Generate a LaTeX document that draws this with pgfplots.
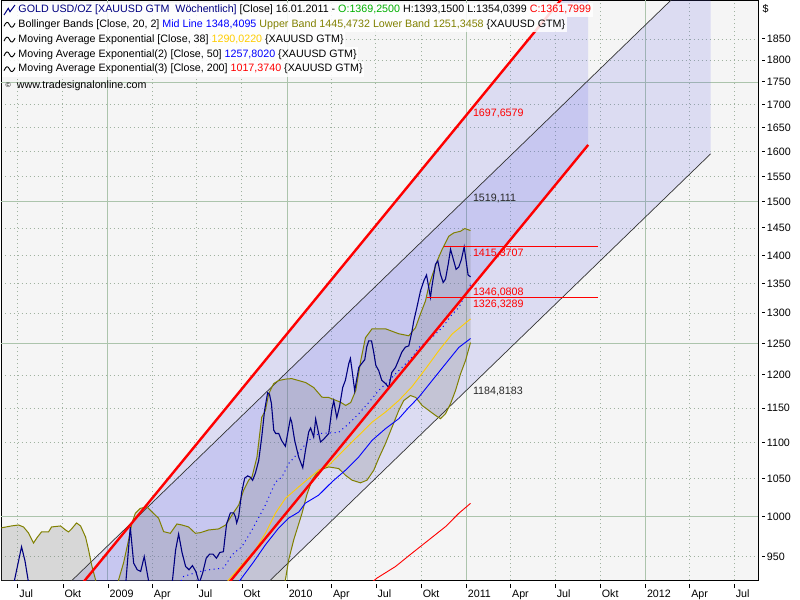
\documentclass[border=0pt]{standalone}
\usepackage{fontspec}
\setmainfont{Liberation Sans}
\usepackage{pgfplots}
\pgfplotsset{compat=1.18}
\definecolor{bgc}{RGB}{245,245,245}
\definecolor{gridsolid}{RGB}{172,196,172}
\definecolor{griddot}{RGB}{160,178,160}
\definecolor{lav}{RGB}{90,90,230}
\definecolor{navy}{RGB}{0,0,128}
\definecolor{olivec}{RGB}{128,128,0}
\definecolor{emay}{RGB}{255,205,0}
\definecolor{ogreen}{RGB}{0,176,0}
\definecolor{darktxt}{RGB}{40,40,40}
\newcommand\lbl{\fontsize{10.7bp}{12bp}\selectfont}
\newcommand\xt[1]{\rule[9bp]{0.8bp}{4bp}\hspace{1.2bp}#1}
\newcommand\yt[1]{\rule[3.4bp]{3.3bp}{0.9bp}\hspace{1.7bp}#1}
\begin{document}
\begin{tikzpicture}[x=1bp,y=1bp]
\useasboundingbox (0,0) rectangle (800,600);
\begin{axis}[
  at={(1.5bp,19.7bp)}, anchor=south west,
  scale only axis, width=756.5bp, height=579.8bp,
  ymode=log, xmin=2008.4061, xmax=2012.6296, ymin=921.5, ymax=1944,
  axis background/.style={fill=bgc},
  axis line style={black, line width=1bp},
  major tick length=0pt,
  ytick={950,1000,1050,1100,1150,1200,1250,1300,1350,1400,1450,1500,1550,1600,1650,1700,1750,1800,1850},
  yticklabels={\yt{950},\yt{1000},\yt{1050},\yt{1100},\yt{1150},\yt{1200},\yt{1250},\yt{1300},\yt{1350},\yt{1400},\yt{1450},\yt{1500},\yt{1550},\yt{1600},\yt{1650},\yt{1700},\yt{1750},\yt{1800},\yt{1850}},
  yticklabel pos=right,
  yticklabel style={anchor=west, inner sep=0pt, xshift=3.7bp, font=\lbl},
  xtick={2008.496,2008.748,2009,2009.247,2009.496,2009.748,2010,2010.247,2010.496,2010.748,2011,2011.247,2011.496,2011.748,2012,2012.247,2012.496},
  xticklabels={\xt{Jul},\xt{Okt},\xt{2009},\xt{Apr},\xt{Jul},\xt{Okt},\xt{2010},\xt{Apr},\xt{Jul},\xt{Okt},\xt{2011},\xt{Apr},\xt{Jul},\xt{Okt},\xt{2012},\xt{Apr},\xt{Jul}},
  xticklabel style={anchor=north west, inner sep=0pt, xshift=-0.4bp, yshift=-3.7bp, font=\lbl},
  grid=major,
  major grid style={griddot, line width=0.8bp, dash pattern=on 1bp off 3bp},
  extra x ticks={2009,2010,2011,2012}, extra x tick labels={},
  extra y ticks={1000,1250,1500,1750}, extra y tick labels={},
  extra tick style={major grid style={gridsolid, line width=1bp, solid}},
  clip=true,
]
% regression channels (fills)
\addplot[draw=none, fill=lav, fill opacity=0.16] coordinates {(2008.6129,883.7) (2012.3654,2043.2) (2012.3654,1595.5) (2008.6129,690.3)};
\addplot[draw=none, fill=lav, fill opacity=0.16] coordinates {(2008.7246,884.1) (2011.6816,2030.4) (2011.6816,1614.0) (2008.7246,702.1)};
% Bollinger band fill
\addplot[draw=none, fill=black!50, fill opacity=0.25] coordinates {
(2008.4006,985.6) (2008.4620,988.2) (2008.5011,989.4) (2008.5291,986.9) (2008.5570,979.3) (2008.5849,966.8) (2008.6073,974.3) (2008.6296,980.6) (2008.6687,980.6) (2008.6855,986.9) (2008.7358,988.2) (2008.7637,983.1) (2008.7805,980.6) (2008.7972,984.4) (2008.8252,992.0) (2008.8475,988.2) (2008.8754,974.3) (2008.8922,958.2) (2008.9090,940.0) (2008.9313,922.0) (2008.9481,898.7) (2008.9760,880) (2009.0039,870) (2009.0319,885) (2009.0486,898.7) (2009.0598,922.0) (2009.0877,942.4) (2009.1157,970.6) (2009.1341,991.6) (2009.1531,1004.4) (2009.1810,1010.8) (2009.2179,1012.9) (2009.2458,1006.4) (2009.2832,998.0) (2009.3112,981.0) (2009.3486,978.9) (2009.3855,990.7) (2009.4134,989.4) (2009.4509,986.9) (2009.4883,978.9) (2009.5162,979.7) (2009.5626,983.1) (2009.6185,984.4) (2009.6576,989.4) (2009.6928,1002.2) (2009.7302,1015.1) (2009.7581,1034.8) (2009.7860,1048.2) (2009.8045,1052.6) (2009.8324,1080.0) (2009.8587,1136.4) (2009.8793,1146.6) (2009.8978,1171.4) (2009.9257,1187.0) (2009.9536,1191.6) (2009.9928,1193.9) (2010.0263,1194.6) (2010.0654,1191.6) (2010.1045,1188.5) (2010.1492,1180.9) (2010.1955,1166.3) (2010.2330,1165.9) (2010.2983,1158.9) (2010.3279,1154.0) (2010.3559,1158.4) (2010.3838,1176.4) (2010.4117,1222.6) (2010.4380,1259.1) (2010.4749,1273.7) (2010.5497,1273.7) (2010.6240,1265.6) (2010.6799,1262.3) (2010.7173,1275.4) (2010.7453,1298.4) (2010.7732,1320.3) (2010.7916,1345.9) (2010.8101,1363.3) (2010.8380,1389.7) (2010.8659,1410.8) (2010.9034,1435.0) (2010.9313,1441.1) (2010.9687,1444.2) (2010.9928,1449.2) (2011.0246,1445.47)
(2011.0246,1251.35) (2010.9966,1222.6) (2010.9687,1201.8) (2010.9408,1176.4) (2010.9128,1156.5) (2010.8849,1141.8) (2010.8570,1134.5) (2010.8291,1139.3) (2010.7916,1146.6) (2010.7542,1154.0) (2010.7190,1165.9) (2010.6894,1168.9) (2010.6520,1161.4) (2010.6240,1146.6) (2010.5866,1122.3) (2010.5497,1098.7) (2010.5123,1078.2) (2010.4844,1061.7) (2010.4469,1048.2) (2010.4101,1044.6) (2010.3631,1048.2) (2010.3263,1054.9) (2010.2888,1064.0) (2010.2330,1066.2) (2010.1771,1061.7) (2010.1397,1048.2) (2010.1101,1028.2) (2010.0838,1004.4) (2010.0374,970.6) (2010.0095,946.0) (2009.9911,922.0) (2009.9704,905) (2009.9257,885) (2009.8419,875) (2009.7302,885) (2009.6185,880) (2009.5067,880) (2009.3950,860) (2009.2832,830) (2009.1715,770) (2009.0598,720) (2008.9481,690) (2008.8363,700) (2008.7246,760) (2008.6129,840) (2008.5011,880) (2008.4006,870)};
% channel thin lines
\addplot[black!80, line width=0.7bp] coordinates {(2008.6129,883.7) (2012.3654,2043.2)};
\addplot[black!80, line width=0.7bp] coordinates {(2008.6129,690.3) (2012.3654,1595.5)};
% Bollinger upper / lower
\addplot[olivec, line width=1bp] coordinates {
(2008.4006,985.6) (2008.4620,988.2) (2008.5011,989.4) (2008.5291,986.9) (2008.5570,979.3) (2008.5849,966.8) (2008.6073,974.3) (2008.6296,980.6) (2008.6687,980.6) (2008.6855,986.9) (2008.7358,988.2) (2008.7637,983.1) (2008.7805,980.6) (2008.7972,984.4) (2008.8252,992.0) (2008.8475,988.2) (2008.8754,974.3) (2008.8922,958.2) (2008.9090,940.0) (2008.9313,922.0) (2008.9481,898.7) (2008.9760,880) (2009.0039,870) (2009.0319,885) (2009.0486,898.7) (2009.0598,922.0) (2009.0877,942.4) (2009.1157,970.6) (2009.1341,991.6) (2009.1531,1004.4) (2009.1810,1010.8) (2009.2179,1012.9) (2009.2458,1006.4) (2009.2832,998.0) (2009.3112,981.0) (2009.3486,978.9) (2009.3855,990.7) (2009.4134,989.4) (2009.4509,986.9) (2009.4883,978.9) (2009.5162,979.7) (2009.5626,983.1) (2009.6185,984.4) (2009.6576,989.4) (2009.6928,1002.2) (2009.7302,1015.1) (2009.7581,1034.8) (2009.7860,1048.2) (2009.8045,1052.6) (2009.8324,1080.0) (2009.8587,1136.4) (2009.8793,1146.6) (2009.8978,1171.4) (2009.9257,1187.0) (2009.9536,1191.6) (2009.9928,1193.9) (2010.0263,1194.6) (2010.0654,1191.6) (2010.1045,1188.5) (2010.1492,1180.9) (2010.1955,1166.3) (2010.2330,1165.9) (2010.2983,1158.9) (2010.3279,1154.0) (2010.3559,1158.4) (2010.3838,1176.4) (2010.4117,1222.6) (2010.4380,1259.1) (2010.4749,1273.7) (2010.5497,1273.7) (2010.6240,1265.6) (2010.6799,1262.3) (2010.7173,1275.4) (2010.7453,1298.4) (2010.7732,1320.3) (2010.7916,1345.9) (2010.8101,1363.3) (2010.8380,1389.7) (2010.8659,1410.8) (2010.9034,1435.0) (2010.9313,1441.1) (2010.9687,1444.2) (2010.9928,1449.2) (2011.0246,1445.47)};
\addplot[olivec, line width=1bp] coordinates {
(2008.4006,870) (2008.5011,880) (2008.6129,840) (2008.7246,760) (2008.8363,700) (2008.9481,690) (2009.0598,720) (2009.1715,770) (2009.2832,830) (2009.3950,860) (2009.5067,880) (2009.6185,880) (2009.7302,885) (2009.8419,875) (2009.9257,885) (2009.9704,905) (2009.9911,922.0) (2010.0095,946.0) (2010.0374,970.6) (2010.0838,1004.4) (2010.1101,1028.2) (2010.1397,1048.2) (2010.1771,1061.7) (2010.2330,1066.2) (2010.2888,1064.0) (2010.3263,1054.9) (2010.3631,1048.2) (2010.4101,1044.6) (2010.4469,1048.2) (2010.4844,1061.7) (2010.5123,1078.2) (2010.5497,1098.7) (2010.5866,1122.3) (2010.6240,1146.6) (2010.6520,1161.4) (2010.6894,1168.9) (2010.7190,1165.9) (2010.7542,1154.0) (2010.7916,1146.6) (2010.8291,1139.3) (2010.8570,1134.5) (2010.8849,1141.8) (2010.9128,1156.5) (2010.9408,1176.4) (2010.9687,1201.8) (2010.9966,1222.6) (2011.0246,1251.35)};
% EMA 200
\addplot[red, line width=0.9bp] coordinates {(2010.4564,916.2) (2010.5028,924.1) (2010.6056,937.9) (2010.6983,954.2) (2010.7916,970.6) (2010.8849,987.3) (2010.9592,1004.4) (2011.0246,1017.37)};
% EMA 50
\addplot[blue, line width=0.9bp] coordinates {(2009.6464,898.7) (2009.7397,922.0) (2009.8140,943.6) (2009.8793,964.4) (2009.9536,985.6) (2010.0095,998.3) (2010.0654,1006.0) (2010.1028,1017.7) (2010.1771,1028.2) (2010.2514,1045.9) (2010.3263,1061.7) (2010.4006,1080.0) (2010.4749,1103.3) (2010.5497,1120.0) (2010.6240,1134.5) (2010.6799,1151.0) (2010.7358,1166.3) (2010.8101,1191.6) (2010.8849,1217.4) (2010.9592,1243.5) (2011.0246,1257.80)};
% EMA 38
\addplot[emay, line width=0.9bp] coordinates {(2009.5905,898.7) (2009.6743,922.0) (2009.7486,940.0) (2009.8235,958.2) (2009.8793,978.9) (2009.9352,1004.4) (2009.9911,1023.9) (2010.0654,1039.2) (2010.1212,1050.5) (2010.1771,1061.7) (2010.2330,1068.5) (2010.3263,1091.7) (2010.4006,1110.4) (2010.4749,1129.5) (2010.5497,1144.1) (2010.6240,1161.4) (2010.6983,1182.4) (2010.7732,1209.6) (2010.8475,1238.3) (2010.9218,1265.1) (2010.9777,1278.6) (2011.0246,1290.02)};
% Bollinger mid line (dotted)
\addplot[blue, line width=1bp, dash pattern=on 1bp off 3.5bp] coordinates {(2009.3950,916.2) (2009.4229,926.0) (2009.5067,931.6) (2009.5626,933.9) (2009.6464,936.0) (2009.6928,952.1) (2009.7486,962.3) (2009.8045,983.1) (2009.8793,1015.1) (2009.9352,1045.5) (2009.9721,1052.6) (2010.0095,1070.9) (2010.0654,1086.5) (2010.1212,1103.3) (2010.1771,1112.9) (2010.2330,1113.7) (2010.2888,1114.7) (2010.3447,1127.2) (2010.4006,1141.8) (2010.4564,1158.4) (2010.5123,1176.4) (2010.5682,1191.6) (2010.6240,1206.9) (2010.6983,1227.7) (2010.7358,1243.5) (2010.8101,1259.6) (2010.8754,1278.6) (2010.9218,1297.9) (2010.9592,1309.0) (2010.9999,1333.9) (2011.0246,1348.41)};
% price
\addplot[navy, line width=1.1bp] coordinates {
(2008.401,890) (2008.422,900) (2008.441,872) (2008.460,903) (2008.518,962) (2008.537,945) (2008.556,920) (2008.575,905) (2008.595,864) (2008.614,786) (2008.633,828) (2008.652,833) (2008.671,805) (2008.691,763) (2008.710,864) (2008.729,884) (2008.748,831) (2008.767,858) (2008.787,789) (2008.806,733) (2008.825,718) (2008.844,735) (2008.863,744) (2008.882,798) (2008.902,814) (2008.921,752) (2008.940,823) (2008.959,838) (2008.978,872) (2008.997,878) (2009.017,854) (2009.036,836) (2009.055,898) (2009.074,910) (2009.093,900) (2009.125,987) (2009.144,942) (2009.164,934) (2009.183,932) (2009.203,950) (2009.222,927) (2009.241,905) (2009.260,895) (2009.279,885) (2009.299,900) (2009.318,890) (2009.337,905) (2009.356,912) (2009.378,958) (2009.395,978) (2009.414,955) (2009.434,938) (2009.453,934) (2009.472,939) (2009.491,932) (2009.510,918) (2009.529,930) (2009.549,948) (2009.568,953) (2009.587,953) (2009.606,948) (2009.625,955) (2009.645,956) (2009.652,970) (2009.663,991) (2009.684,1005) (2009.702,1005) (2009.712,1000) (2009.719,992) (2009.730,1000) (2009.747,1032) (2009.764,1051) (2009.781,1054) (2009.796,1052) (2009.808,1048) (2009.824,1058) (2009.842,1075) (2009.859,1108) (2009.875,1147) (2009.892,1173) (2009.902,1171) (2009.913,1157) (2009.926,1118) (2009.937,1113) (2009.954,1113) (2009.970,1103) (2009.991,1095) (2010.019,1135) (2010.026,1130) (2010.043,1103) (2010.065,1080) (2010.088,1065) (2010.103,1089) (2010.121,1115) (2010.132,1121) (2010.149,1108) (2010.160,1134) (2010.187,1101) (2010.205,1105) (2010.233,1113) (2010.250,1147) (2010.261,1161) (2010.278,1136) (2010.293,1152) (2010.311,1181) (2010.326,1192) (2010.345,1218) (2010.354,1226) (2010.362,1210) (2010.378,1176) (2010.388,1192) (2010.401,1212) (2010.417,1218) (2010.434,1224) (2010.445,1244) (2010.456,1254) (2010.472,1254) (2010.484,1236) (2010.496,1215) (2010.512,1207) (2010.529,1192) (2010.550,1187) (2010.568,1181) (2010.585,1204) (2010.606,1212) (2010.624,1224) (2010.641,1236) (2010.661,1244) (2010.680,1246) (2010.698,1270) (2010.708,1287) (2010.725,1309) (2010.745,1337) (2010.764,1355) (2010.779,1365) (2010.801,1326.33) (2010.808,1343) (2010.829,1384) (2010.842,1390) (2010.857,1366) (2010.872,1352) (2010.885,1358) (2010.900,1384) (2010.913,1411) (2010.926,1396) (2010.944,1375) (2010.959,1379) (2010.974,1393) (2010.989,1415.37) (2011.000,1390) (2011.011,1365) (2011.025,1361.80)};
% thick red channel lines
\addplot[red, line width=2.4bp] coordinates {(2008.7246,884.1) (2011.6816,2030.4)};
\addplot[red, line width=2.4bp] coordinates {(2009.5067,875.8) (2011.6816,1614.0)};
% horizontal high / low lines
\addplot[red, line width=1.2bp] coordinates {(2010.8754,1415.37) (2011.7358,1415.37)};
\addplot[red, line width=1.2bp] coordinates {(2010.7804,1326.33) (2011.7358,1326.33)};
% value labels
\node[anchor=west, inner sep=0pt, font=\lbl, text=red] at (axis cs:2011.0374,1681.5) {1697,6579};
\node[anchor=west, inner sep=0pt, font=\lbl, text=darktxt] at (axis cs:2011.0374,1506.1) {1519,111};
\node[anchor=west, inner sep=0pt, font=\lbl, text=red] at (axis cs:2011.0374,1403.4) {1415,3707};
\node[anchor=west, inner sep=0pt, font=\lbl, text=red] at (axis cs:2011.0374,1334.6) {1346,0808};
\node[anchor=west, inner sep=0pt, font=\lbl, text=red] at (axis cs:2011.0374,1314.3) {1326,3289};
\node[anchor=west, inner sep=0pt, font=\lbl, text=darktxt] at (axis cs:2011.0374,1175.4) {1184,8183};
\end{axis}
% legend
\begin{scope}[every node/.style={anchor=west, inner xsep=0pt, inner ysep=0pt, minimum height=14.8bp, font=\lbl, fill=white, fill opacity=0.85, text opacity=1}]
\node at (2,590) {\hspace*{16.3bp}\textcolor{navy}{GOLD USD/OZ [XAUUSD GTM\ \ Wöchentlich]} [Close] 16.01.2011 - \textcolor{ogreen}{O:1369,2500} H:1393,1500 L:1354,0399 \textcolor{red}{C:1361,7999}\hspace*{1.5bp}};
\node at (2,575.2) {\hspace*{16.3bp}Bollinger Bands [Close, 20, 2] \textcolor{blue}{Mid Line 1348,4095} \textcolor{olivec}{Upper Band 1445,4732 Lower Band 1251,3458} \{XAUUSD GTM\}\hspace*{1.5bp}};
\node at (2,560.4) {\hspace*{16.3bp}Moving Average Exponential [Close, 38] \textcolor{emay}{1290,0220} \{XAUUSD GTM\}\hspace*{1.5bp}};
\node at (2,545.6) {\hspace*{16.3bp}Moving Average Exponential(2) [Close, 50] \textcolor{blue}{1257,8020} \{XAUUSD GTM\}\hspace*{1.5bp}};
\node at (2,530.8) {\hspace*{16.3bp}Moving Average Exponential(3) [Close, 200] \textcolor{red}{1017,3740} \{XAUUSD GTM\}\hspace*{1.5bp}};
\end{scope}
\node[anchor=west, inner sep=0pt, font=\lbl] at (5.5,514) {\raisebox{1.5bp}{\fontsize{7bp}{7bp}\selectfont ©}\hspace{6bp}www.tradesignalonline.com};
\draw[navy, line width=1bp] (4,585) -- (8.3,591.7) -- (10,588.3) -- (15,595);
\foreach \yy in {575.2,560.4,545.6,530.8}{
  \draw[black, line width=0.9bp] (4,\yy-1.5) .. controls (6,\yy+3.5) and (8,\yy+3.5) .. (9.5,\yy) .. controls (11,\yy-3.5) and (13,\yy-3.5) .. (15,\yy+1.5);
}
\node[font=\lbl, inner sep=0pt] at (765.5,591) {\$};
\end{tikzpicture}
\end{document}
